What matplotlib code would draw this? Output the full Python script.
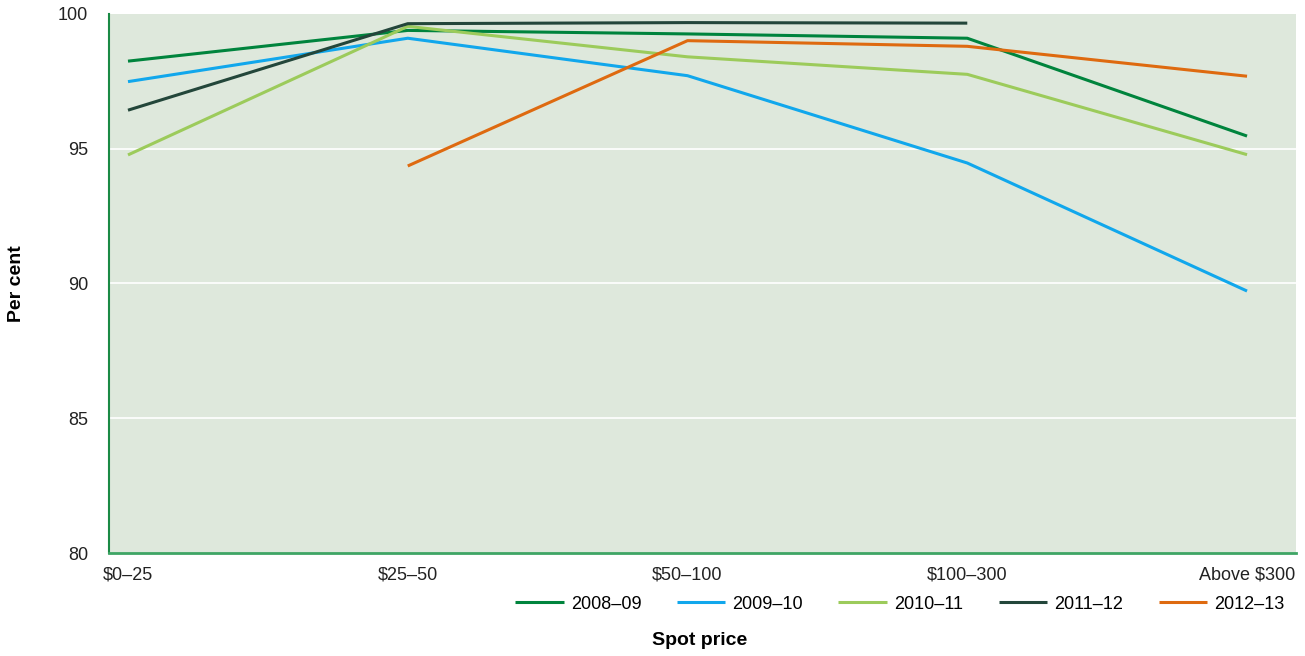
import numpy as np
import matplotlib.pyplot as plt

plt.rcParams['font.family'] = ['Liberation Sans', 'DejaVu Sans']

# spot price bands
categories = ["$0–25", "$25–50", "$50–100", "$100–300", "Above $300"]

# per cent values (nan = no data)
y2008_09 = [98.25, 99.39, 99.26, 99.10, 95.47]
y2009_10 = [97.49, 99.10, 97.71, 94.47, 89.72]
y2010_11 = [94.77, 99.54, 98.41, 97.76, 94.78]
y2011_12 = [96.43, 99.64, 99.68, 99.66, np.nan]
y2012_13 = [np.nan, 94.36, 99.01, 98.80, 97.69]

series = {
    "2008–09": (y2008_09, "#00843d"),
    "2009–10": (y2009_10, "#11a7ec"),
    "2010–11": (y2010_11, "#9ccb5b"),
    "2011–12": (y2011_12, "#23463a"),
    "2012–13": (y2012_13, "#de6a10"),
}

fig = plt.figure(figsize=(13.05, 6.56), dpi=100)
ax = fig.add_axes([0.0835, 0.157, 0.9096, 0.8217])
ax.set_facecolor("#dee8dc")

x = np.arange(len(categories))
for name, (vals, col) in series.items():
    ax.plot(x, vals, color=col, lw=2.2, label=name, solid_capstyle="butt")

ax.set_ylim(80, 100)
ax.set_xlim(-0.068, 4.175)
ax.set_yticks([80, 85, 90, 95, 100])
ax.set_xticks(x)
ax.set_xticklabels(categories)
ax.tick_params(length=0, labelsize=13, colors="#222222")
ax.tick_params(axis="x", pad=10)
ax.tick_params(axis="y", pad=15)
for yv in [85, 90, 95]:
    ax.axhline(yv, color="white", lw=1.2, zorder=0.5)

for s in ["top", "right"]:
    ax.spines[s].set_visible(False)
ax.spines["left"].set_color("#1a8a45")
ax.spines["bottom"].set_color("#3ea565")
ax.spines["left"].set_linewidth(1.5)
ax.spines["bottom"].set_linewidth(2)

fig.legend(loc="center right", bbox_to_anchor=(0.997, 0.079), ncol=5,
           frameon=False, fontsize=13, handlelength=2.7, columnspacing=1.95,
           handletextpad=0.4)

fig.text(0.536, 0.024, "Spot price", ha="center", va="center",
         fontsize=14, fontweight="bold")
fig.text(0.013, 0.568, "Per cent", ha="center", va="center", rotation=90,
         fontsize=14, fontweight="bold")

fig.savefig("out.png", dpi=100)
